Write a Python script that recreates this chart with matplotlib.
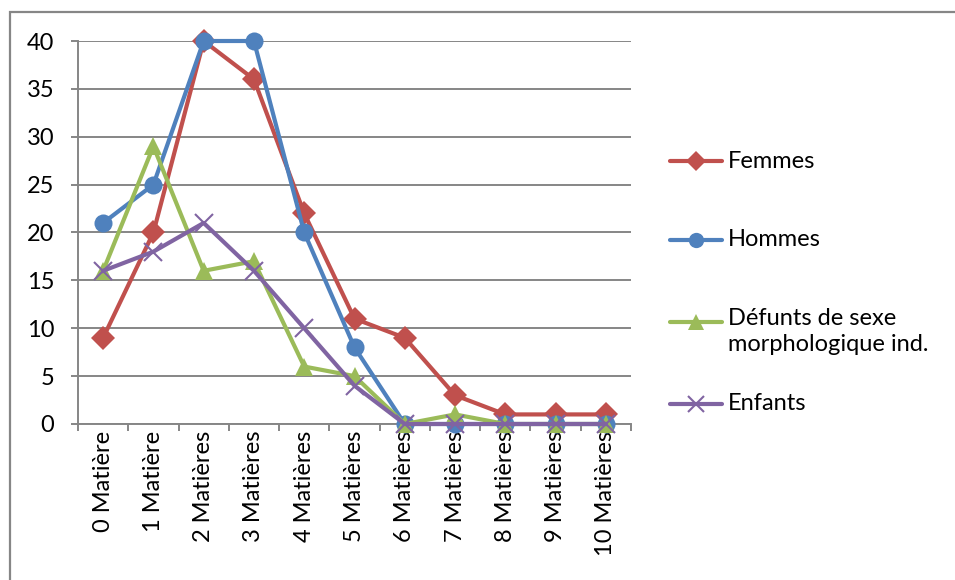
import matplotlib
matplotlib.use("Agg")
import matplotlib.pyplot as plt
from matplotlib.lines import Line2D
from matplotlib.patches import Rectangle

categories = ["0 Matière", "1 Matière", "2 Matières", "3 Matières", "4 Matières",
              "5 Matières", "6 Matières", "7 Matières", "8 Matières", "9 Matières",
              "10 Matières"]
femmes = [9, 20, 40, 36, 22, 11, 9, 3, 1, 1, 1]
hommes = [21, 25, 40, 40, 20, 8, 0, 0, 0, 0, 0]
defunts = [16, 29, 16, 17, 6, 5, 0, 1, 0, 0, 0]
enfants = [16, 18, 21, 16, 10, 4, 0, 0, 0, 0, 0]
series_labels = ["Femmes", "Hommes", "Défunts de sexe\nmorphologique ind.", "Enfants"]
yticks = [0, 5, 10, 15, 20, 25, 30, 35, 40]

plt.rcParams['font.family'] = ['Lato', 'DejaVu Sans']
W, H = 955, 580
FS = 17
fig = plt.figure(figsize=(W / 100, H / 100), dpi=100)
fig.patch.set_facecolor("white")

GRID = "#868686"
# outer chart frame
fig.add_artist(Rectangle((10 / W, -0.1), 1.2, 1 - 12 / H + 0.1, transform=fig.transFigure,
                         fill=False, edgecolor=GRID, linewidth=1.6))

ax = fig.add_axes([78 / W, 1 - 424 / H, (631 - 78) / W, (424 - 41) / H])
x = list(range(len(categories)))

styles = [
    (femmes, "#C0504D", "D", 12, 1),
    (hommes, "#4F81BD", "o", 13, 1),
    (defunts, "#9BBB59", "^", 13, 1),
    (enfants, "#8064A2", "x", 13, 1.5),
]
for vals, col, mk, ms, mew in styles:
    ax.plot(x, vals, color=col, lw=3, marker=mk, markersize=ms,
            markeredgewidth=mew if mk == "x" else 0, markerfacecolor=col,
            markeredgecolor=col, clip_on=False, zorder=3)

ax.set_xlim(-0.5, len(categories) - 0.5)
ax.set_ylim(0, 40)
ax.set_yticks(yticks)
ax.set_yticklabels([str(v) for v in yticks], fontsize=FS)
ax.yaxis.grid(True, color=GRID, lw=1.4)
ax.set_axisbelow(True)
ax.set_xticks(x)
ax.set_xticklabels(categories, rotation=90, fontsize=FS, va="top")
ax.set_xticks([i - 0.5 for i in range(len(categories) + 1)], minor=True)
ax.tick_params(axis="x", which="major", length=0, pad=5)
ax.tick_params(axis="x", which="minor", length=5, color=GRID, width=1.4)
ax.tick_params(axis="y", length=5, color=GRID, width=1.4, pad=12)
for s in ["top", "right"]:
    ax.spines[s].set_visible(False)
for s in ["left", "bottom"]:
    ax.spines[s].set_color(GRID)
    ax.spines[s].set_linewidth(1.4)

# legend (manual, Excel style)
leg_y = [161, 240, 322, 404]
for (vals, col, mk, ms, mew), lab, yy in zip(styles, series_labels, leg_y):
    yf = 1 - yy / H
    fig.add_artist(Line2D([670 / W, 722 / W], [yf, yf], transform=fig.transFigure,
                          color=col, lw=3, solid_capstyle="round"))
    fig.add_artist(Line2D([696 / W], [yf], transform=fig.transFigure, color=col,
                          marker=mk, markersize=ms - 2, markerfacecolor=col, markeredgecolor=col,
                          markeredgewidth=mew if mk == "x" else 0, lw=0))
    if "\n" in lab:
        fig.text(728 / W, 1 - (yy - 14) / H, lab, fontsize=FS, va="top", ha="left",
                 linespacing=1.3)
    else:
        fig.text(728 / W, yf, lab, fontsize=FS, va="center", ha="left")

fig.savefig("out.png", dpi=100)
